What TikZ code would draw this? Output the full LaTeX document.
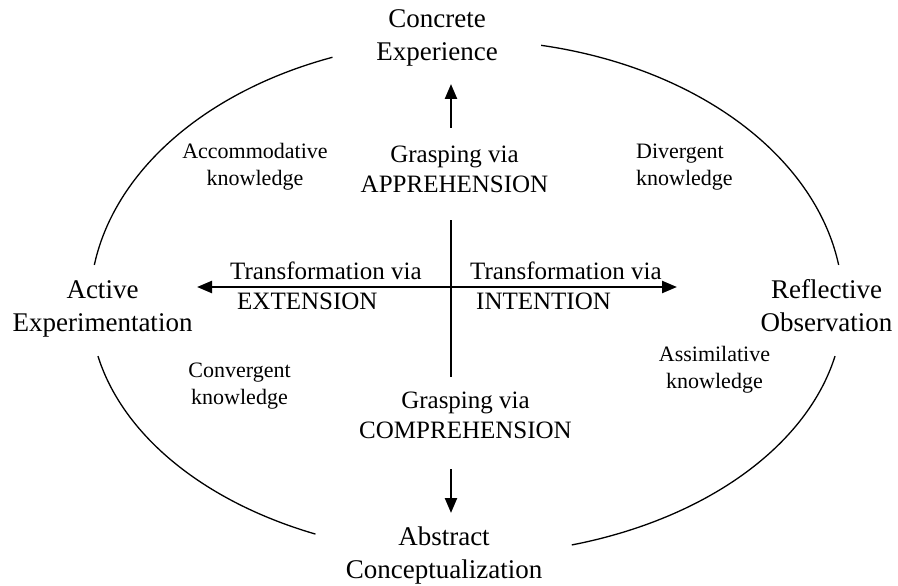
\documentclass[tikz,border=0pt]{standalone}
\usepackage{fontspec}
\setmainfont{Liberation Serif}
\usetikzlibrary{arrows.meta}
\begin{document}
\begin{tikzpicture}[x=1pt,y=-1pt,
  big/.style={font=\fontsize{27}{33}\selectfont, align=center, inner sep=0pt, anchor=base},
  mid/.style={font=\fontsize{25}{30}\selectfont, inner sep=0pt},
  small/.style={font=\fontsize{22}{26.5}\selectfont, inner sep=0pt},
  ring/.style={line width=1.3pt},
  axis/.style={line width=2.4pt},
  tipped/.style={-{Triangle[length=15pt,width=12pt]}}
]
\useasboundingbox (0,0) rectangle (898,586);

% pole labels
\node[big] (ce) at (437,61) {Concrete\\Experience};
\node[big] (ae) at (102.5,331) {Active\\Experimentation};
\node[big] (ro) at (826.5,331) {Reflective\\Observation};
\node[big] (ac) at (444,578) {Abstract\\Conceptualization};

% axis labels
\node[mid, align=center, anchor=base] (app) at (454.5,192) {Grasping via\\APPREHENSION};
\node[mid, align=center, anchor=base] (comp) at (465.5,438) {Grasping via\\COMPREHENSION};
\node[mid, align=left, anchor=base west] (ext) at (230,309) {Transformation via\\\hspace*{7pt}EXTENSION};
\node[mid, align=left, anchor=base west] (int) at (470,309) {Transformation via\\\hspace*{6pt}INTENTION};

% knowledge labels
\node[small, align=center, anchor=base] (acc) at (255,185) {Accommodative\\knowledge};
\node[small, align=left, anchor=base west] (div) at (636,185) {Divergent\\knowledge};
\node[small, align=center, anchor=base] (conv) at (239.5,404) {Convergent\\knowledge};
\node[small, align=center, anchor=base] (assim) at (714.5,388) {Assimilative\\knowledge};

% ellipse arcs
\draw[ring] plot[domain=188.7:249.2, samples=80, smooth] ({466+376*cos(\x)},{305+265*sin(\x)});
\draw[ring] plot[domain=281.5:351.3, samples=80, smooth] ({466+377*cos(\x)},{305+265*sin(\x)});
\draw[ring] plot[domain=113.6:168.2, samples=80, smooth] ({466+376*cos(\x)},{305+250*sin(\x)});
\draw[ring] plot[domain=11.8:73.7, samples=80, smooth] ({466+377*cos(\x)},{305+250*sin(\x)});

% axes
\coordinate (o) at (451,287);
\coordinate (vtop) at (451,220);
\coordinate (vbot) at (451,377);
\coordinate (wtip) at (197,287);
\coordinate (etip) at (677,287);
\coordinate (ustart) at (451,128);
\coordinate (utip) at (451,84);
\coordinate (dstart) at (451,469);
\coordinate (dtip) at (451,513);

\draw[axis] (vtop) -- (vbot);
\draw[axis,tipped] (o) -- (wtip);
\draw[axis,tipped] (o) -- (etip);
\draw[axis,tipped] (ustart) -- (utip);
\draw[axis,tipped] (dstart) -- (dtip);
\end{tikzpicture}
\end{document}
